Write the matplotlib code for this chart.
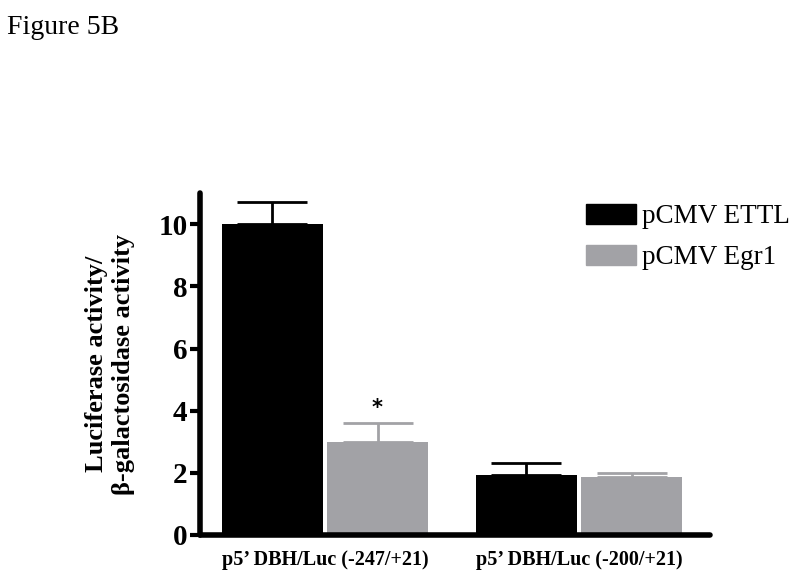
import numpy as np
import matplotlib
matplotlib.use("Agg")
import matplotlib.pyplot as plt
from matplotlib.patches import Patch

# 数据
groups = ["p5\u2019 DBH/Luc (-247/+21)", "p5\u2019 DBH/Luc (-200/+21)"]
series = ["pCMV ETTL", "pCMV Egr1"]
ettl_vals = [10.0, 1.92]
ettl_err = [0.72, 0.40]
egr1_vals = [3.0, 1.86]
egr1_err = [0.62, 0.13]
y_ticks = [0, 2, 4, 6, 8, 10]

plt.rcParams["font.family"] = ["Liberation Serif", "DejaVu Serif"]

fig = plt.figure(figsize=(8, 5.82), dpi=100)
ax = fig.add_axes([0.25, 0.0808, 0.6375, 0.5872])

x = np.arange(len(groups))
w = 0.398
off = 0.207
ax.bar(x - off, ettl_vals, w, color="#000000", zorder=2)
ax.bar(x + off, egr1_vals, w, color="#a2a2a6", zorder=2)
ax.errorbar(x - off, ettl_vals, yerr=[np.zeros(2), ettl_err], fmt="none",
            ecolor="#000000", elinewidth=2, capsize=25, capthick=2, zorder=1)
ax.errorbar(x + off, egr1_vals, yerr=[np.zeros(2), egr1_err], fmt="none",
            ecolor="#a2a2a6", elinewidth=2, capsize=25, capthick=2, zorder=1)

# 显著性标记
ax.text(x[0] + off, 4.1, "*", ha="center", va="center",
        fontsize=15, fontweight="bold", family="DejaVu Sans")

ax.set_xlim(-0.492, 1.516)
ax.set_ylim(0, 11)
ax.set_yticks(y_ticks)
ax.set_yticklabels([str(t) for t in y_ticks], fontsize=21, fontweight="bold")
ax.set_xticks(x)
ax.set_xticklabels(groups, fontsize=14.5, fontweight="bold")
ax.tick_params(axis="x", length=0, pad=11)
ax.tick_params(axis="y", length=7, width=3, pad=2)
for s in ["top", "right"]:
    ax.spines[s].set_visible(False)
for s in ["left", "bottom"]:
    ax.spines[s].set_linewidth(4)
    ax.spines[s].set_capstyle("round")

ax.set_ylabel("Luciferase activity/\n\u03b2-galactosidase activity", fontsize=19,
              fontweight="bold", labelpad=17, linespacing=1.2)

handles = [Patch(color="#000000"), Patch(color="#a2a2a6")]
fig.legend(handles, series, loc="upper left", bbox_to_anchor=(0.7325, 0.650),
           frameon=False, fontsize=19.5, handlelength=1.85, handleheight=0.76,
           handletextpad=0.2, labelspacing=0.57, borderaxespad=0, borderpad=0)

fig.text(0.009, 0.975, "Figure 5B", fontsize=20, va="top", ha="left")

fig.savefig("out.png", dpi=100)
